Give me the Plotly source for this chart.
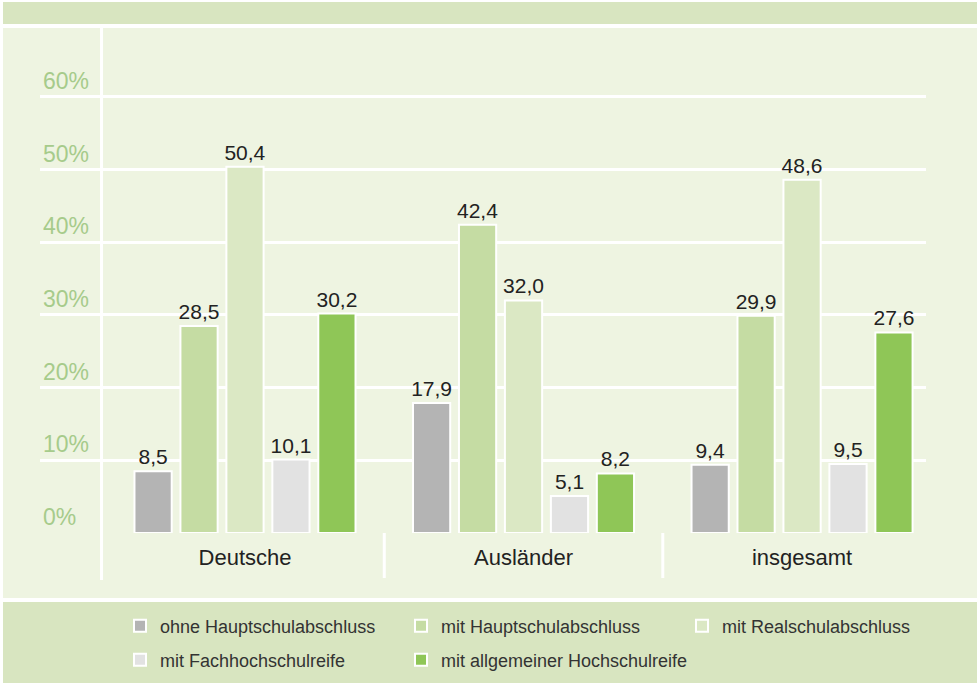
import plotly.graph_objects as go

categories = ["Deutsche", "Ausländer", "insgesamt"]
series_names = [
    "ohne Hauptschulabschluss",
    "mit Hauptschulabschluss",
    "mit Realschulabschluss",
    "mit Fachhochschulreife",
    "mit allgemeiner Hochschulreife",
]
ohne_hs = [8.5, 17.9, 9.4]
mit_hs = [28.5, 42.4, 29.9]
mit_rs = [50.4, 32.0, 48.6]
mit_fhr = [10.1, 5.1, 9.5]
mit_ahr = [30.2, 8.2, 27.6]
series_values = [ohne_hs, mit_hs, mit_rs, mit_fhr, mit_ahr]
colors = ["#b4b4b4", "#c5dca3", "#dbe8c4", "#e2e2e2", "#8fc657"]
legend_ids = ["legend", "legend", "legend", "legend2", "legend3"]
ytick_vals = [0, 10, 20, 30, 40, 50, 60]
ytick_text = ["0%", "10%", "20%", "30%", "40%", "50%", "60%"]

W, H = 977, 683
ML, MR, MT, MB = 40, 51, 28, 150
PW = W - ML - MR
PH = H - MT - MB


def xp(px):
    return (px - ML) / PW


def yp(py):
    return (H - MB - py) / PH


FONT = "Liberation Sans, Arial, Helvetica, sans-serif"

fig = go.Figure()
for name, vals, col, lg in zip(series_names, series_values, colors, legend_ids):
    fig.add_trace(go.Bar(
        x=categories, y=vals, name=name,
        marker=dict(color=col, line=dict(color="white", width=2)),
        texttemplate="%{y:.1f}", textposition="outside", constraintext="none",
        textfont=dict(size=21, color="#222222", family=FONT),
        cliponaxis=False, legend=lg, hoverinfo="skip",
    ))

PANEL = "#eef4e1"
BAND = "#d8e5c0"
shapes = [
    dict(type="rect", xref="paper", yref="paper", x0=xp(3), x1=xp(W), y0=yp(24), y1=yp(2),
         fillcolor=BAND, line=dict(width=0), layer="below"),
    dict(type="rect", xref="paper", yref="paper", x0=xp(3), x1=xp(W), y0=yp(598), y1=yp(28),
         fillcolor=PANEL, line=dict(width=0), layer="below"),
    dict(type="rect", xref="paper", yref="paper", x0=xp(3), x1=xp(W), y0=yp(H), y1=yp(602),
         fillcolor=BAND, line=dict(width=0), layer="below"),
    dict(type="line", xref="x", yref="paper", x0=-0.515, x1=-0.515, y0=yp(580), y1=yp(28),
         line=dict(color="white", width=3), layer="below"),
    dict(type="line", xref="x", yref="paper", x0=0.5, x1=0.5, y0=yp(578), y1=0,
         line=dict(color="white", width=3), layer="below"),
    dict(type="line", xref="x", yref="paper", x0=1.5, x1=1.5, y0=yp(578), y1=0,
         line=dict(color="white", width=3), layer="below"),
]

legend_common = dict(
    orientation="h", xref="container", yref="container", xanchor="left", yanchor="middle",
    entrywidthmode="pixels", bgcolor="rgba(0,0,0,0)",
    font=dict(size=18, color="#333333", family=FONT), itemclick=False, itemdoubleclick=False,
)

fig.update_layout(
    width=W, height=H,
    margin=dict(l=ML, r=MR, t=MT, b=MB, pad=0),
    paper_bgcolor="white", plot_bgcolor=PANEL,
    separators=",.",
    barmode="group", bargap=0.175, bargroupgap=0.19,
    font=dict(family=FONT),
    showlegend=True,
    legend=dict(x=120 / W, y=1 - 626 / H, entrywidth=236, **legend_common),
    legend2=dict(x=120 / W, y=1 - 660 / H, entrywidth=236, **legend_common),
    legend3=dict(x=401 / W, y=1 - 660 / H, entrywidth=300, **legend_common),
    xaxis=dict(
        type="category", range=[-0.736, 2.445], showgrid=False, zeroline=False,
        showline=False, ticks="", ticklabelstandoff=9,
        tickfont=dict(size=22, color="#222222", family=FONT),
    ),
    yaxis=dict(
        range=[0, 69.49], tickvals=ytick_vals, ticktext=ytick_text,
        showgrid=True, gridcolor="white", gridwidth=3, zeroline=False, showline=False,
        ticks="", ticklabelposition="inside top",
        tickfont=dict(size=23, color="#a6cb8b", family=FONT),
    ),
    shapes=shapes,
)

fig.write_html(
    "out.html",
    config={"displayModeBar": False},
    post_script="document.body.style.margin='0px';",
)
